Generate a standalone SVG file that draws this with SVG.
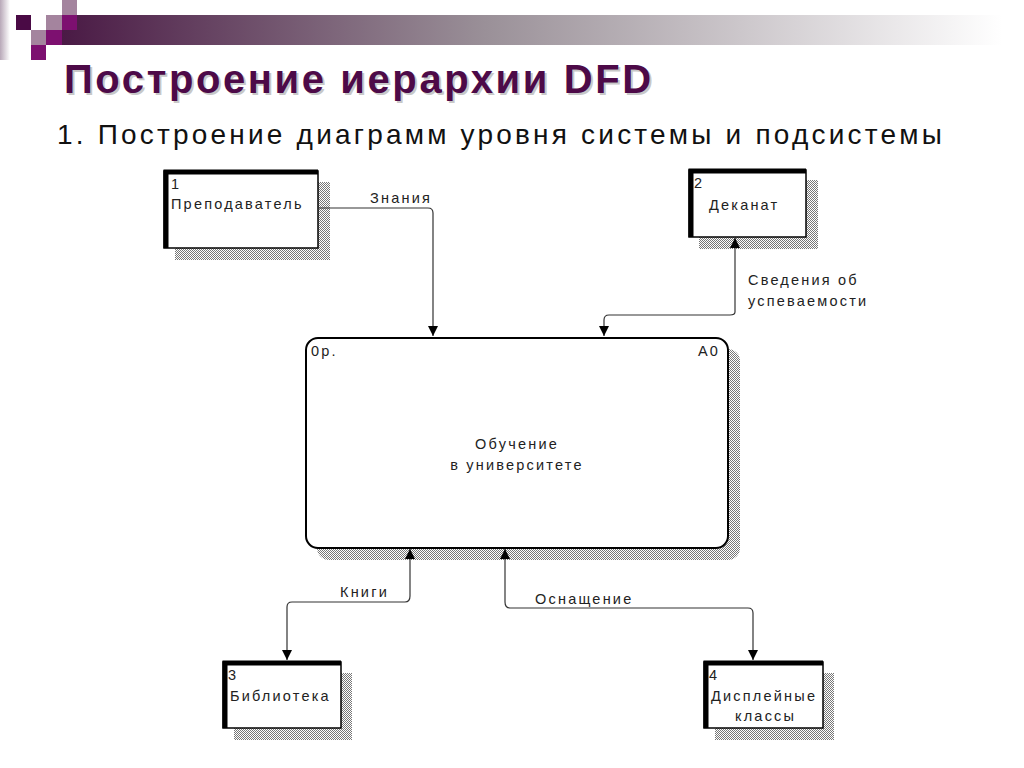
<svg xmlns="http://www.w3.org/2000/svg" width="1024" height="768" viewBox="0 0 1024 768">
<defs>
<linearGradient id="bar" x1="0" x2="1" y1="0" y2="0"><stop offset="0" stop-color="#4a1a45"/><stop offset="0.45" stop-color="#9a9098"/><stop offset="1" stop-color="#ffffff"/></linearGradient>
<linearGradient id="edge" x1="0" x2="1"><stop offset="0" stop-color="#b8a8b8"/><stop offset="1" stop-color="#ffffff"/></linearGradient>
<pattern id="hatch" width="2" height="2" patternUnits="userSpaceOnUse"><rect width="2" height="2" fill="#ffffff"/><rect width="1" height="1" fill="#777"/><rect x="1" y="1" width="1" height="1" fill="#777"/></pattern>
<marker id="arr" viewBox="0 0 10 10" refX="10" refY="5" markerWidth="10" markerHeight="10" markerUnits="userSpaceOnUse" orient="auto"><path d="M0,0 L10,5 L0,10 z" fill="#000"/></marker>
<style>
.t{font-family:"Liberation Sans",Arial,sans-serif;font-size:14.5px;fill:#222;letter-spacing:2.2px}
.ent{fill:#fff;stroke:#000;stroke-width:1.5}
.thick{fill:none;stroke:#000;stroke-width:5}
.c{fill:none;stroke:#333;stroke-width:1.2}
</style>
</defs>
<rect x="0" y="0" width="10" height="60" fill="url(#edge)"/>
<rect x="62" y="15" width="940" height="30" fill="url(#bar)"/>
<rect x="62" y="0" width="15" height="15" fill="#a4849e"/>
<rect x="16" y="15" width="15" height="15" fill="#4a0a45"/>
<rect x="46" y="15" width="16" height="15" fill="#a4849e"/>
<rect x="62" y="15" width="15" height="15" fill="#7d1070"/>
<rect x="31" y="30" width="15" height="15" fill="#a4849e"/>
<rect x="46" y="30" width="16" height="15" fill="#7d1070"/>
<rect x="31" y="45" width="15" height="15" fill="#7d1070"/>
<text x="64" y="93" font-family="Liberation Sans,Arial,sans-serif" font-size="40" font-weight="bold" fill="#c8c8c8" transform="translate(2,2)" letter-spacing="2.6">Построение иерархии DFD</text>
<text x="64" y="93" font-family="Liberation Sans,Arial,sans-serif" font-size="40" font-weight="bold" fill="#4d0a48" letter-spacing="2.6">Построение иерархии DFD</text>
<text x="57" y="144" font-family="Liberation Sans,Arial,sans-serif" font-size="28" fill="#111" letter-spacing="3.2">1. Построение диаграмм уровня системы и подсистемы</text>

<g id="n1">
<rect x="175" y="182" width="155" height="78" fill="url(#hatch)"/>
<rect class="ent" x="164" y="171" width="154" height="77"/>
<path class="thick" d="M166,248 V172 H318"/>
<text class="t" x="171" y="189">1</text>
<text class="t" x="171" y="209">Преподаватель</text>
</g>
<g id="n2">
<rect x="699" y="180" width="119" height="69" fill="url(#hatch)"/>
<rect class="ent" x="689" y="170" width="117" height="67"/>
<path class="thick" d="M691,237 V171 H806"/>
<text class="t" x="694" y="188">2</text>
<text class="t" x="709" y="210">Деканат</text>
</g>
<g id="n0">
<rect x="317" y="349" width="423" height="211" rx="12" fill="url(#hatch)"/>
<rect x="306" y="338" width="422" height="210" rx="12" fill="#fff" stroke="#000" stroke-width="2"/>
<text class="t" x="311" y="356">0р.</text>
<text class="t" x="698" y="356">A0</text>
<text class="t" x="517" y="449" text-anchor="middle">Обучение</text>
<text class="t" x="517" y="470" text-anchor="middle">в университете</text>
</g>
<g id="n3">
<rect x="234" y="673" width="118" height="67" fill="url(#hatch)"/>
<rect class="ent" x="223" y="662" width="118" height="66"/>
<path class="thick" d="M225,728 V663 H341"/>
<text class="t" x="228" y="680">3</text>
<text class="t" x="230" y="701">Библиотека</text>
</g>
<g id="n4">
<rect x="715" y="673" width="119" height="67" fill="url(#hatch)"/>
<rect class="ent" x="704" y="662" width="119" height="66"/>
<path class="thick" d="M706,728 V663 H823"/>
<text class="t" x="709" y="680">4</text>
<text class="t" x="711" y="701">Дисплейные</text>
<text class="t" x="735" y="721">классы</text>
</g>

<g id="connectors">
<path class="c" d="M318,208 H428 Q433,208 433,213 V336" marker-end="url(#arr)"/>
<path class="c" d="M735,312 V238" marker-end="url(#arr)"/>
<path class="c" d="M735,312 Q735,315 730,315 H609 Q604,315 604,320 V336" marker-end="url(#arr)"/>
<path class="c" d="M410,596 V549" marker-end="url(#arr)"/>
<path class="c" d="M410,596 Q410,602 405,602 H292 Q287,602 287,607 V660" marker-end="url(#arr)"/>
<path class="c" d="M505,602 V549" marker-end="url(#arr)"/>
<path class="c" d="M505,602 Q505,608 510,608 H748 Q753,608 753,613 V660" marker-end="url(#arr)"/>
<text class="t" x="370" y="203">Знания</text>
<text class="t" x="748" y="285">Сведения об</text>
<text class="t" x="748" y="306">успеваемости</text>
<text class="t" x="340" y="597">Книги</text>
<text class="t" x="535" y="604">Оснащение</text>
</g>
</svg>
